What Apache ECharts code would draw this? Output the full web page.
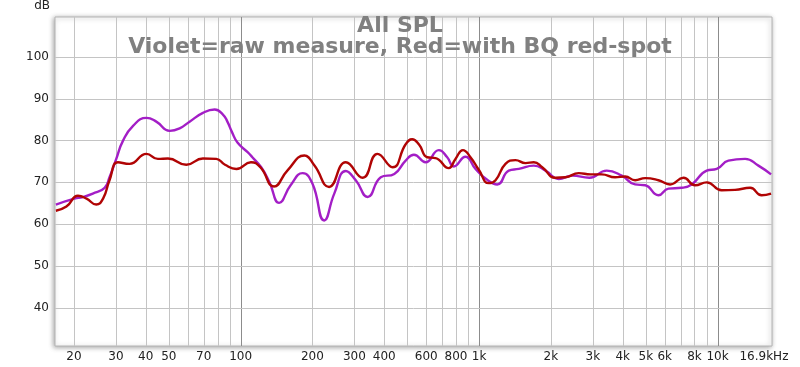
<!DOCTYPE html>
<html>
<head>
<meta charset="utf-8">
<script src="https://cdn.jsdelivr.net/npm/echarts@6/dist/echarts.min.js"></script>
<style>html,body{margin:0;padding:0;background:#fff;}#c{width:800px;height:367px;}</style>
</head>
<body>
<div id="c"></div>
<script>
// Frequencies (Hz) and SPL (dB)
const violetFreq = [16.8,20.1,21.8,24.0,26.9,28.2,30.1,32.1,35.4,40.3,44.3,50.4,55.5,61.1,69.5,77.8,84.3,88,92,97,107,112,122,132,145,162,182,200,224,247,276,304,341,387,441,492,533,596,678,735,783,877,966,1081,1191,1332,1467,1696,1898,2158,2456,2900,3429,3964,4510,4969,5648,6221,7073,7791,9001,9915,11100,13040,14830,16760];
const violetSpl  = [64.7,66.1,66.5,67.3,68.7,71.2,75.6,79.9,83.5,85.4,84.5,82.3,82.9,84.5,86.6,87.4,86.2,84.5,82.0,79.5,77.2,76.0,73.6,70.1,65.1,69.3,72.2,69.7,60.9,67.3,72.7,70.5,66.5,71.2,72.0,75.2,76.6,74.8,77.7,76.0,73.8,76.1,73.2,70.6,69.5,72.8,73.2,74.0,72.8,70.8,71.6,71.1,72.8,71.6,69.5,69.3,66.9,68.5,68.7,69.5,72.8,73.2,75.2,75.6,74.0,71.9];
const redFreq = [16.8,18.6,20.8,22.6,24.8,26.5,28.2,30.6,34.2,40.3,45.0,49.6,59.2,69.5,79.1,86,96,110.5,121,138,157,185,204,235,276,325,375,434,492,524,559,606,657,746,796,855,920,997,1098,1172,1290,1421,1565,1696,1839,2091,2302,2617,2931,3268,3719,4096,4510,4969,5648,6322,7191,8048,9001,10400,11840,13690,15300,16760];
const redSpl  = [63.2,64.2,66.8,66.1,64.7,66.1,70.5,74.8,74.4,76.8,75.6,75.7,74.2,75.7,75.6,74.2,73.2,74.8,73.6,69.0,72.8,76.4,74.0,68.9,74.8,71.1,76.8,73.6,79.1,80.3,79.1,76.0,75.8,73.4,75.6,77.7,76.0,73.0,69.8,70.5,74.4,75.3,74.6,74.8,73.6,71.1,71.2,72.2,71.9,71.9,71.2,71.4,70.5,71.0,70.5,69.5,71.1,69.3,70.0,68.1,68.2,68.7,66.9,67.3];

const xGrid = [20,30,40,50,60,70,80,90,100,200,300,400,500,600,700,800,900,1000,2000,3000,4000,5000,6000,7000,8000,9000,10000];
const xMajor = [100,1000,10000];
const xLabels = [20,30,40,50,70,100,200,300,400,600,800,1000,2000,3000,4000,5000,6000,8000,10000,16900];
const yGrid = [40,50,60,70,80,90,100];
const yLabels = [40,50,60,70,80,90,100];

const FONT = 'DejaVu Sans';
function fmtF(v){
  if (v === 16900) return '16.9kHz';
  return v >= 1000 ? (v/1000) + 'k' : String(v);
}

const labelLines = xLabels.map(f => ({
  xAxis: f,
  lineStyle: { color: 'rgba(255,255,255,0)', width: 0 },
  label: f === 16900 ? { formatter: fmtF(f), padding: [0, 16, 0, 0] } : { formatter: fmtF(f) }
}));

function vLine(params, api) {
  const cs = params.coordSys;
  const f = api.value(0);
  const x = Math.round(api.coord([f, 50])[0]) + 0.5;
  return {
    type: 'line', silent: true,
    shape: { x1: x, y1: cs.y, x2: x, y2: cs.y + cs.height },
    style: { stroke: xMajor.indexOf(f) >= 0 ? '#8c8c8c' : '#c4c4c4', lineWidth: 1 }
  };
}
function hLine(params, api) {
  const cs = params.coordSys;
  const y = Math.round(api.coord([100, api.value(1)])[1]) + 0.5;
  return {
    type: 'line', silent: true,
    shape: { x1: cs.x, y1: y, x2: cs.x + cs.width, y2: y },
    style: { stroke: '#c4c4c4', lineWidth: 1 }
  };
}

const chart = echarts.init(document.getElementById('c'), null, { renderer: 'canvas' });
chart.setOption({
  animation: false,
  backgroundColor: '#fff',
  title: {
    text: 'All SPL\nViolet=raw measure, Red=with BQ red-spot',
    left: 'center',
    top: 11,
    textStyle: { fontFamily: FONT, fontWeight: 'bold', fontSize: 22, lineHeight: 21, color: '#808080' },
    z: 10
  },
  grid: {
    left: 55, right: 28, top: 13, bottom: 21,
    show: true, backgroundColor: '#fff', borderColor: '#b4b4b4', borderWidth: 1,
    shadowBlur: 5, shadowColor: 'rgba(0,0,0,0.35)', shadowOffsetX: -1, shadowOffsetY: 1
  },
  xAxis: {
    type: 'log', logBase: 10, min: 16.66, max: 16910,
    axisLine: { show: false }, axisTick: { show: false }, axisLabel: { show: false }, splitLine: { show: false }
  },
  yAxis: {
    type: 'value', min: 30.9, max: 109.5,
    name: 'dB', nameLocation: 'end', nameGap: 5,
    nameTextStyle: { fontFamily: FONT, fontSize: 12, color: '#222', align: 'right', padding: [0, 5, 0, 0] },
    axisLine: { show: false }, axisTick: { show: false, customValues: yGrid },
    axisLabel: { customValues: yLabels, fontFamily: FONT, fontSize: 12, color: '#222', margin: 6 },
    splitLine: { show: false }
  },
  series: [
    {
      type: 'custom', z: 1, silent: true, clip: false,
      renderItem: vLine,
      data: xGrid.map(f => [f, 50])
    },
    {
      type: 'custom', z: 1, silent: true, clip: false,
      renderItem: hLine,
      data: yGrid.map(v => [100, v])
    },
    {
      type: 'line', data: [], z: 1, silent: true,
      markLine: {
        silent: true, symbol: ['none', 'none'], animation: false,
        label: { show: true, position: 'start', distance: 5, fontFamily: FONT, fontSize: 12, color: '#222' },
        emphasis: { disabled: true },
        data: labelLines
      }
    },
    {
      name: 'Violet', type: 'line', z: 3, smooth: 0.5, symbol: 'none',
      lineStyle: { color: '#a31ec6', width: 2.4 },
      data: violetFreq.map((f, i) => [f, violetSpl[i]])
    },
    {
      name: 'Red', type: 'line', z: 4, smooth: 0.5, symbol: 'none',
      lineStyle: { color: '#b00404', width: 2.4 },
      data: redFreq.map((f, i) => [f, redSpl[i]])
    }
  ]
});
</script>
</body>
</html>
